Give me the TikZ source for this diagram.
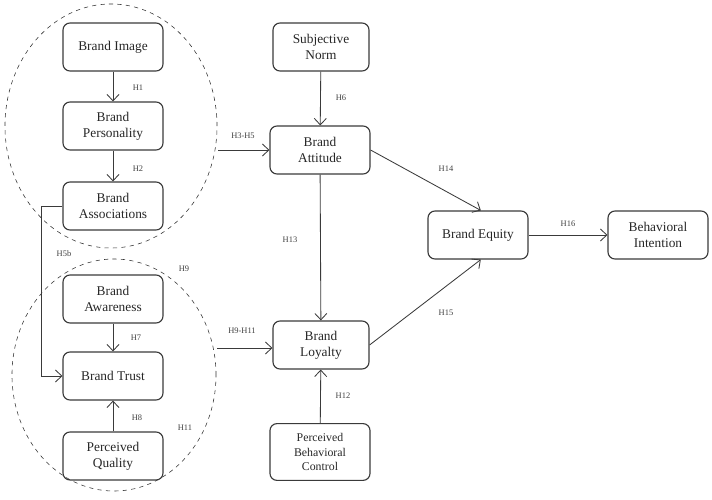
\documentclass[tikz,border=0pt]{standalone}
\usepackage{tikz}
\usetikzlibrary{arrows.meta,shapes.geometric}
\usepackage{fontspec}
\setmainfont{Liberation Serif}
\definecolor{ink}{HTML}{3A3A3A}

\begin{document}
\begin{tikzpicture}[x=0.025cm,y=-0.025cm,
  construct/.style={draw=ink,thick,rounded corners=5pt,minimum width=2.5cm,minimum height=1.2cm,
    align=center,font=\fontsize{9.5}{11.4}\selectfont,text=black!85},
  hyp/.style={font=\fontsize{6}{7}\selectfont,text=black!75},
  link/.style={draw=ink,semithick,-{Straight Barb[length=1.6mm,width=3mm]}},
  group/.style={draw=black!80,dashed,thin}]
  \useasboundingbox (0,0) rectangle (712,500);

  % Groups of antecedents
  \node[group,ellipse,minimum width=5.3cm,minimum height=6.1cm] (top) at (111,126) {};
  \node[group,ellipse,minimum width=5.1cm,minimum height=5.8cm] (bot) at (114,375) {};

  % Constructs, left column
  \node[construct] (img) at (113,47) {Brand Image};
  \node[construct] (pers) at (113,126) {Brand\\Personality};
  \node[construct] (assoc) at (113,206) {Brand\\Associations};
  \node[construct] (aware) at (113,299) {Brand\\Awareness};
  \node[construct] (trust) at (113,376) {Brand Trust};
  \node[construct] (qual) at (113,456) {Perceived\\Quality};

  % Constructs, middle and right
  \node[construct,minimum width=2.4cm] (norm) at (321,47) {Subjective\\Norm};
  \node[construct] (att) at (320,150) {Brand\\Attitude};
  \node[construct,minimum width=2.4cm] (loy) at (321,345) {Brand\\Loyalty};
  \node[construct,minimum height=1.42cm,font=\fontsize{8.4}{10}\selectfont] (pbc) at (320,452) {Perceived\\Behavioral\\Control};
  \node[construct] (eq) at (478,235) {Brand Equity};
  \node[construct] (bi) at (658,235) {Behavioral\\Intention};
  \coordinate (topR) at (218,150);
  \coordinate (botR) at (217,348);

  % Paths
  \draw[link] (img) -- (pers);
  \draw[link] (pers) -- (assoc);
  \draw[link] (aware) -- (trust);
  \draw[link] (qual) -- (trust);
  \draw[link] (assoc.west) -- ++(-21,0) |- (trust.west);
  \draw[link] (norm) -- (att);
  \draw[link] (att) -- (loy);
  \draw[link] (pbc) -- (loy);
  \draw[link] (topR) -- (att.west);
  \draw[link] (botR) -- (botR -| loy.west);
  \draw[link] (att.east) -- ([xshift=2pt]eq.north);
  \draw[link] (loy.east) -- ([xshift=2pt]eq.south);
  \draw[link] (eq) -- (bi);

  % Hypothesis labels
  \node[hyp] (h1) at (138,88) {H1};
  \node[hyp] (h2) at (138,169) {H2};
  \node[hyp] (h5b) at (64,254) {H5b};
  \node[hyp] (h7) at (136,338) {H7};
  \node[hyp] (h8) at (137,418) {H8};
  \node[hyp] (h9) at (184,269) {H9};
  \node[hyp] (h11) at (185,428) {H11};
  \node[hyp] (h35) at (243,136) {H3-H5};
  \node[hyp] (h911) at (242,331) {H9-H11};
  \node[hyp] (h6) at (341,98) {H6};
  \node[hyp] (h13) at (290,240) {H13};
  \node[hyp] (h12) at (343,396) {H12};
  \node[hyp] (h14) at (446,169) {H14};
  \node[hyp] (h15) at (446,313) {H15};
  \node[hyp] (h16) at (568,224) {H16};
\end{tikzpicture}
\end{document}
